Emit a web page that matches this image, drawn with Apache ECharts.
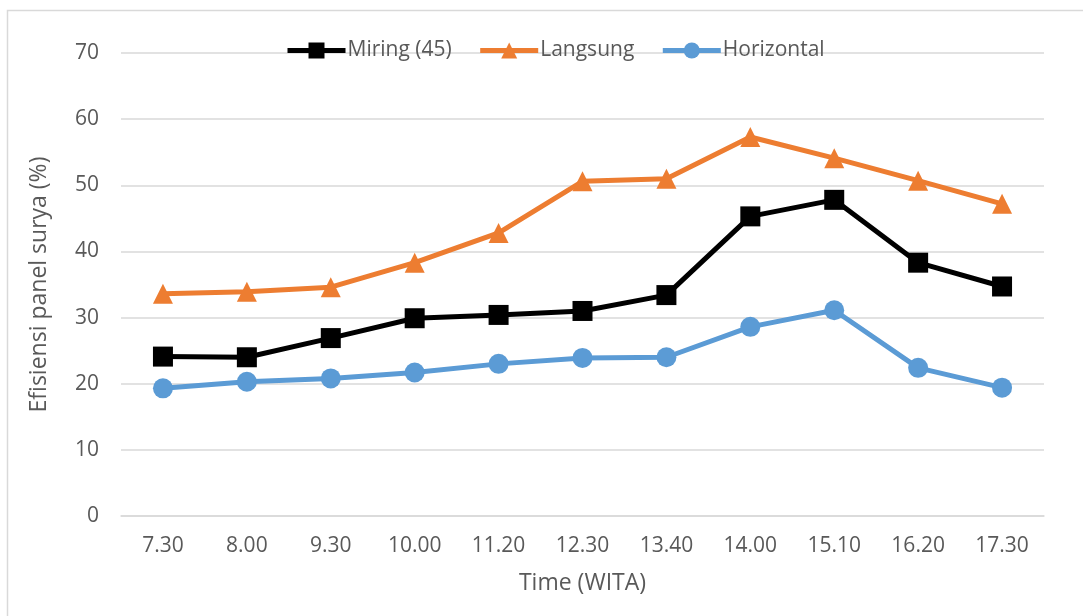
<!DOCTYPE html>
<html><head><meta charset="utf-8">
<script src="https://cdn.jsdelivr.net/npm/echarts@6/dist/echarts.min.js"></script>
<style>html,body{margin:0;padding:0;background:#fff}#c{width:1083px;height:616px}</style>
</head><body><div id="c"></div>
<script>
const categories = ['7.30','8.00','9.30','10.00','11.20','12.30','13.40','14.00','15.10','16.20','17.30'];
const miring = [24.1, 24.0, 26.9, 29.9, 30.4, 31.0, 33.4, 45.3, 47.8, 38.3, 34.7];
const langsung = [33.6, 33.9, 34.6, 38.3, 42.8, 50.6, 51.0, 57.3, 54.1, 50.7, 47.2];
const horizontal = [19.3, 20.3, 20.8, 21.7, 23.0, 23.9, 24.0, 28.6, 31.1, 22.4, 19.4];
const yTicks = [0, 10, 20, 30, 40, 50, 60, 70];

const FONT = '"Open Sans"';
const chart = echarts.init(document.getElementById('c'), null, {renderer: 'canvas'});
function s(name, data, color, symbol, size) {
  return {
    name, type: 'line', data, symbol, symbolSize: size,
    lineStyle: {color, width: 5}, itemStyle: {color}, z: 3
  };
}
chart.setOption({
  backgroundColor: '#fff',
  animation: false,
  graphic: [{type: 'rect', shape: {x: 7.5, y: 10.5, width: 1200, height: 1200}, style: {fill: 'none', stroke: '#d9d9d9', lineWidth: 1.5}, silent: true}],
  legend: {
    top: 35, left: 280, itemWidth: 58, itemHeight: 20, itemGap: 26,
    lineStyle: {width: 5},
    textStyle: {fontFamily: FONT, fontSize: 21, color: '#595959', padding: [0, 0, 0, -3]},
    data: ['Miring (45)', 'Langsung', 'Horizontal']
  },
  grid: {left: 121, right: 39, top: 53, bottom: 100},
  xAxis: {
    type: 'category', data: categories, boundaryGap: true,
    name: 'Time (WITA)', nameLocation: 'middle', nameGap: 56,
    nameTextStyle: {fontFamily: FONT, fontSize: 23, color: '#595959'},
    axisLine: {lineStyle: {color: '#d9d9d9', width: 1.5}},
    axisTick: {show: false},
    axisLabel: {fontFamily: FONT, fontSize: 21, color: '#595959', margin: 20}
  },
  yAxis: {
    type: 'value', min: yTicks[0], max: yTicks[yTicks.length - 1], interval: 10,
    name: 'Efisiensi panel surya (%)', nameLocation: 'middle', nameGap: 70,
    nameTextStyle: {fontFamily: FONT, fontSize: 23, color: '#595959'},
    axisLine: {show: false}, axisTick: {show: false},
    axisLabel: {fontFamily: FONT, fontSize: 21, color: '#595959', margin: 22},
    splitLine: {lineStyle: {color: '#d9d9d9', width: 1.5}}
  },
  series: [
    s('Miring (45)', miring, '#000000', 'rect', 20),
    s('Langsung', langsung, '#ed7d31', 'triangle', 20),
    s('Horizontal', horizontal, '#5b9bd5', 'circle', 20)
  ]
});
</script></body></html>
